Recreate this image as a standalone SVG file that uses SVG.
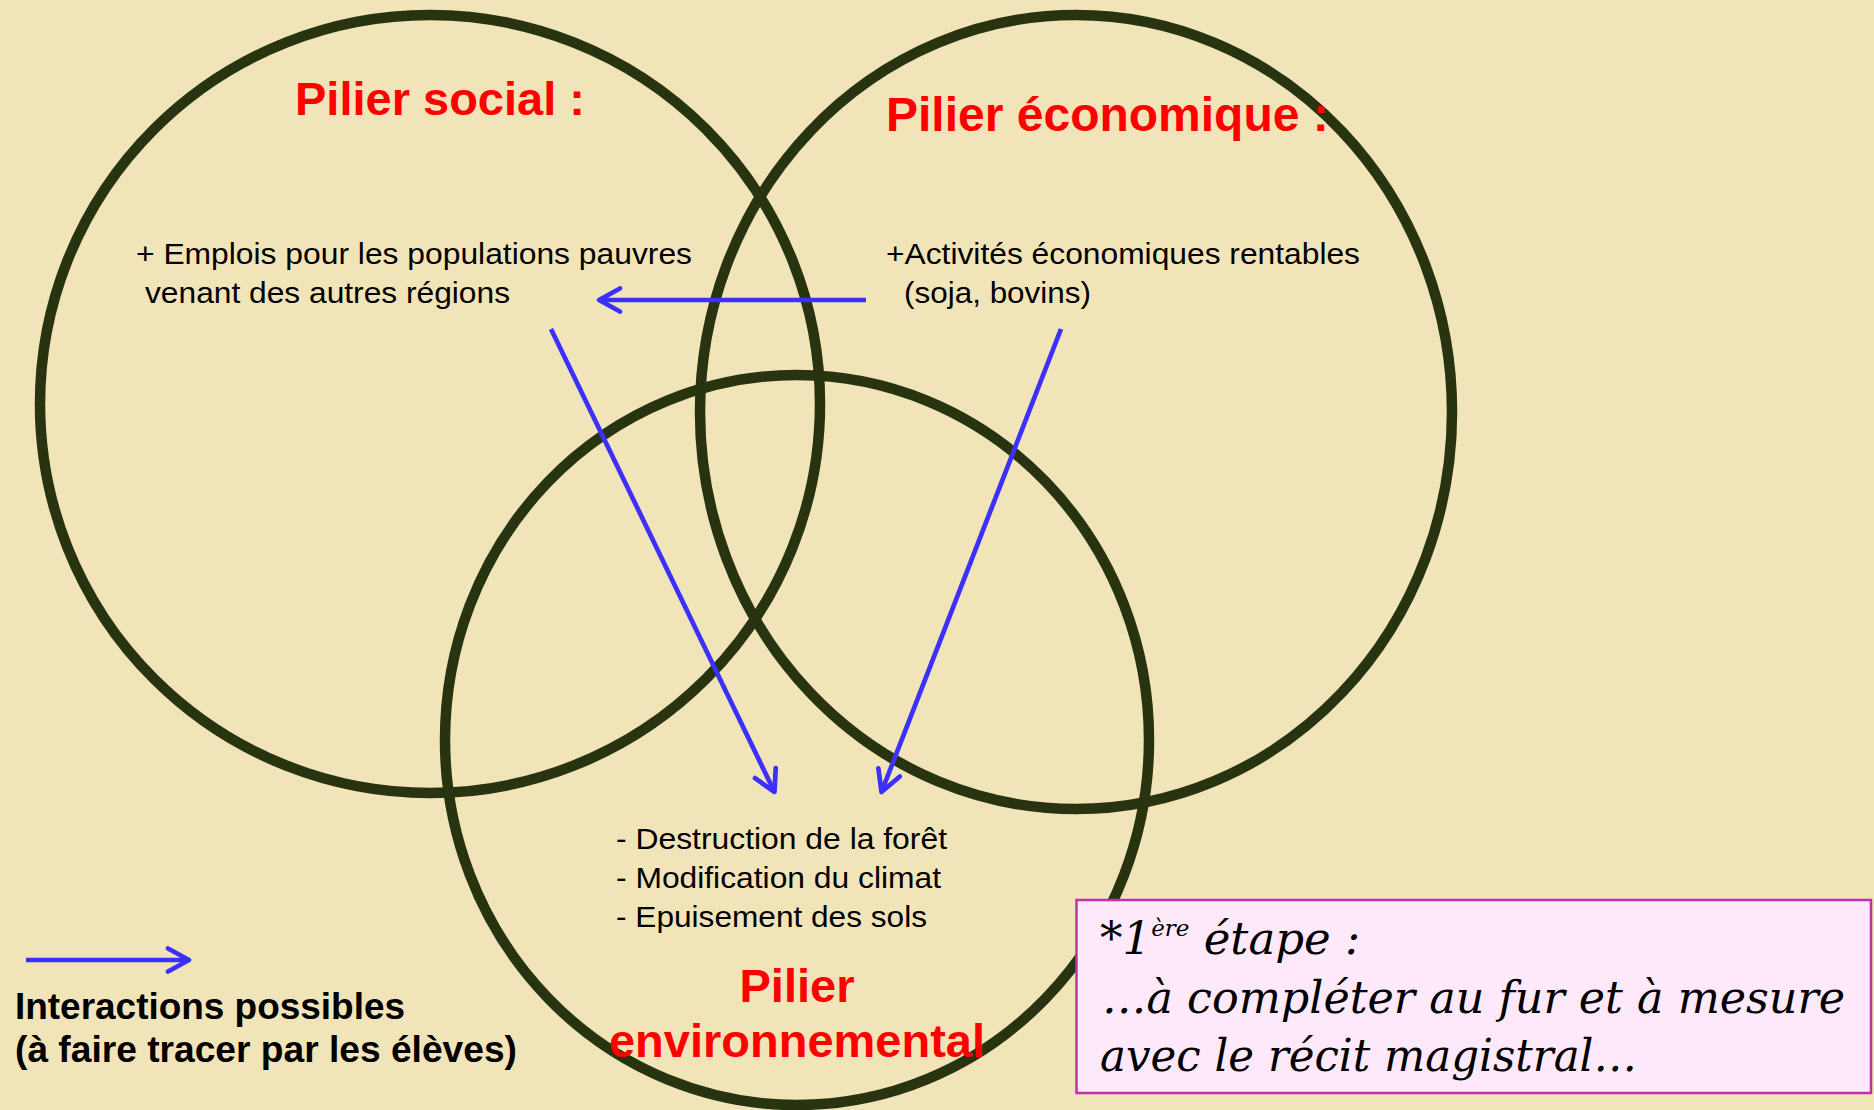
<svg xmlns="http://www.w3.org/2000/svg" width="1874" height="1110" viewBox="0 0 1874 1110">
  <style>
    .ring { fill: none; stroke: #283410; stroke-width: 10.5; }
    .title { font-family: "Liberation Sans", Arial, sans-serif; font-weight: bold; fill: #ff0000; }
    .body { font-family: "Liberation Sans", Arial, sans-serif; font-size: 30px; fill: #000000; }
    .legend { font-family: "Liberation Sans", Arial, sans-serif; font-weight: bold; font-size: 36px; fill: #000000; }
    .conn { fill: none; stroke: #3b30fc; stroke-width: 4.7; }
    .note { font-family: "DejaVu Serif", "Liberation Serif", serif; font-style: italic; font-size: 45px; fill: #000000; }
  </style>
  <defs>
    <marker id="arr" markerUnits="userSpaceOnUse" viewBox="-26 -16 30 32" refX="0" refY="0" markerWidth="30" markerHeight="32" orient="auto" overflow="visible">
      <path d="M-21,-11.5 L0,0 L-21,11.5" fill="none" stroke="#3b30fc" stroke-width="4.7" stroke-linecap="round" stroke-linejoin="round"/>
    </marker>
  </defs>
  <rect x="0" y="0" width="1874" height="1110" fill="#f0e4b8"/>

  <g id="node-social">
    <ellipse class="ring" cx="430" cy="404" rx="390" ry="389"/>
  </g>
  <g id="node-economic">
    <ellipse class="ring" cx="1076" cy="412" rx="376" ry="397"/>
  </g>
  <g id="node-environment">
    <ellipse class="ring" cx="797" cy="740" rx="352" ry="365"/>
  </g>

  <g id="connectors">
    <line class="conn" x1="866" y1="300" x2="599" y2="300" marker-end="url(#arr)"/>
    <line class="conn" x1="551" y1="329" x2="774.5" y2="792" marker-end="url(#arr)"/>
    <line class="conn" x1="1061" y1="329" x2="881.5" y2="792" marker-end="url(#arr)"/>
  </g>

  <g id="labels-social">
    <text class="title" x="295" y="115" font-size="47">Pilier social :</text>
    <text class="body" x="136" y="264" textLength="556" lengthAdjust="spacingAndGlyphs">+ Emplois pour les populations pauvres</text>
    <text class="body" x="145" y="303" textLength="365" lengthAdjust="spacingAndGlyphs">venant des autres régions</text>
  </g>
  <g id="labels-economic">
    <text class="title" x="886" y="131" font-size="48">Pilier économique :</text>
    <text class="body" x="886" y="264" textLength="474" lengthAdjust="spacingAndGlyphs">+Activités économiques rentables</text>
    <text class="body" x="904" y="303" textLength="187" lengthAdjust="spacingAndGlyphs">(soja, bovins)</text>
  </g>
  <g id="labels-environment">
    <text class="body" x="616" y="849" textLength="331" lengthAdjust="spacingAndGlyphs">- Destruction de la forêt</text>
    <text class="body" x="616" y="888" textLength="325" lengthAdjust="spacingAndGlyphs">- Modification du climat</text>
    <text class="body" x="616" y="927" textLength="311" lengthAdjust="spacingAndGlyphs">- Epuisement des sols</text>
    <text class="title" x="797" y="1002" font-size="47" text-anchor="middle">Pilier</text>
    <text class="title" x="797" y="1057" font-size="47" text-anchor="middle">environnemental</text>
  </g>

  <g id="legend">
    <line class="conn" x1="26" y1="960" x2="189" y2="960" marker-end="url(#arr)"/>
    <text class="legend" x="15" y="1019" textLength="390" lengthAdjust="spacingAndGlyphs">Interactions possibles</text>
    <text class="legend" x="15" y="1062" textLength="502" lengthAdjust="spacingAndGlyphs">(à faire tracer par les élèves)</text>
  </g>

  <g id="note">
    <rect x="1076.5" y="900" width="794.5" height="193" fill="#fde9f9" stroke="#c030a8" stroke-width="2.5"/>
    <text class="note" x="1100" y="954">*1<tspan dy="-18" font-size="23">ère</tspan><tspan dy="18"> étape :</tspan></text>
    <text class="note" x="1102" y="1013" textLength="743" lengthAdjust="spacingAndGlyphs">…à compléter au fur et à mesure</text>
    <text class="note" x="1100" y="1071" textLength="537" lengthAdjust="spacingAndGlyphs">avec le récit magistral…</text>
  </g>
</svg>
